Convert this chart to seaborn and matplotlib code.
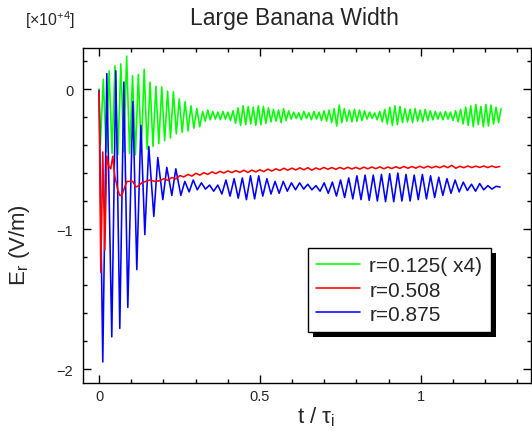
import numpy as np
import matplotlib
matplotlib.use("Agg")
import matplotlib.pyplot as plt
from matplotlib.patches import Rectangle
from matplotlib.ticker import MultipleLocator, FuncFormatter
import seaborn as sns

# ---------------------------------------------------------------
# data, E_r in units of 1e4 V/m, time in units of tau_i
# oscillating curves are stored as their successive troughs / peaks
# ---------------------------------------------------------------

# r = 0.125 (x4), green
green_early_troughs = [-0.40, -0.45, -0.46, -0.47, -0.45, -0.46, -0.47, -0.45, -0.43,
                       -0.41, -0.39, -0.37, -0.35, -0.32, -0.31, -0.30, -0.28, -0.27]
green_early_peaks = [0.07, 0.13, 0.165, 0.18, 0.235, 0.095, 0.105, 0.14, 0.05,
                     0.02, 0.015, -0.015, -0.02, -0.07, -0.09, -0.12, -0.14, -0.16]
green_late_troughs = [-0.23, -0.22, -0.215, -0.22, -0.215, -0.225, -0.245, -0.26, -0.255, -0.25,
                      -0.26, -0.255, -0.245, -0.235, -0.23, -0.24, -0.225, -0.215, -0.21, -0.22,
                      -0.21, -0.22, -0.215, -0.225, -0.23, -0.24, -0.265, -0.24, -0.23, -0.235,
                      -0.23, -0.225, -0.215, -0.21, -0.22, -0.235, -0.25, -0.26, -0.255, -0.24,
                      -0.235, -0.24, -0.23, -0.235, -0.225, -0.22, -0.215, -0.22, -0.215, -0.225,
                      -0.235, -0.25, -0.26, -0.27, -0.255, -0.27, -0.265, -0.25, -0.24]
green_late_peaks = [-0.15, -0.16, -0.165, -0.16, -0.165, -0.155, -0.135, -0.12, -0.125, -0.13,
                    -0.12, -0.125, -0.135, -0.145, -0.15, -0.14, -0.155, -0.165, -0.17, -0.16,
                    -0.17, -0.16, -0.165, -0.155, -0.15, -0.14, -0.115, -0.14, -0.15, -0.145,
                    -0.15, -0.155, -0.165, -0.17, -0.16, -0.145, -0.13, -0.12, -0.125, -0.14,
                    -0.145, -0.14, -0.15, -0.145, -0.155, -0.16, -0.165, -0.16, -0.165, -0.155,
                    -0.145, -0.13, -0.12, -0.11, -0.125, -0.11, -0.115, -0.13, -0.14]

# r = 0.508, red
red_early_t = [0.0, 0.0053, 0.0115, 0.0177, 0.024, 0.0302, 0.0364, 0.0426, 0.0488, 0.0582, 0.0644,
               0.0706, 0.0768, 0.0862, 0.0955, 0.1048, 0.1141, 0.1235, 0.1328, 0.1453, 0.1577, 0.1733]
red_early = [-0.02, -1.31, -0.45, -1.15, -0.48, -0.55, -0.57, -0.48, -0.62, -0.72, -0.76,
             -0.76, -0.72, -0.66, -0.66, -0.66, -0.70, -0.69, -0.67, -0.66, -0.65, -0.66]
red_late = [-0.655, -0.640, -0.652, -0.632, -0.642, -0.618, -0.628, -0.610, -0.622, -0.602,
            -0.615, -0.598, -0.610, -0.592, -0.604, -0.588, -0.600, -0.585, -0.597, -0.583,
            -0.595, -0.580, -0.596, -0.579, -0.592, -0.577, -0.590, -0.572, -0.586, -0.570,
            -0.582, -0.566, -0.580, -0.565, -0.578, -0.563, -0.577, -0.562, -0.580, -0.564,
            -0.575, -0.560, -0.573, -0.561, -0.574, -0.560, -0.572, -0.559, -0.571, -0.560,
            -0.572, -0.558, -0.570, -0.557, -0.569, -0.556, -0.570, -0.557, -0.568, -0.555,
            -0.567, -0.553, -0.566, -0.554, -0.565, -0.552, -0.564, -0.551, -0.563, -0.552,
            -0.562, -0.549, -0.562, -0.545, -0.566, -0.552, -0.562, -0.550, -0.561, -0.551,
            -0.560, -0.550, -0.561, -0.550, -0.560, -0.553]

# r = 0.875, blue
blue_early_t = [0.0, 0.0115, 0.024, 0.0395, 0.052, 0.0644, 0.077, 0.0893, 0.105, 0.1173, 0.13,
                0.1422, 0.1546, 0.1702, 0.1826, 0.1982, 0.2106, 0.2262, 0.2386, 0.2542, 0.2666]
blue_early = [-0.01, -1.95, 0.11, -1.77, 0.13, -1.71, 0.05, -1.56, -0.09, -1.29, -0.26,
              -1.04, -0.41, -0.91, -0.49, -0.79, -0.56, -0.76, -0.57, -0.76, -0.66]
blue_late_troughs = [-0.735, -0.72, -0.715, -0.73, -0.75, -0.765, -0.78, -0.79, -0.785, -0.765,
                     -0.75, -0.745, -0.73, -0.72, -0.715, -0.72, -0.73, -0.745, -0.765, -0.775,
                     -0.785, -0.79, -0.795, -0.80, -0.805, -0.805, -0.80, -0.80, -0.79, -0.785,
                     -0.775, -0.76, -0.745, -0.735, -0.725, -0.73, -0.72, -0.715]
blue_late_peaks = [-0.65, -0.67, -0.686, -0.686, -0.65, -0.64, -0.635, -0.62, -0.62, -0.64,
                   -0.66, -0.66, -0.67, -0.67, -0.68, -0.69, -0.67, -0.665, -0.65, -0.635,
                   -0.62, -0.615, -0.615, -0.61, -0.605, -0.60, -0.61, -0.615, -0.61, -0.62,
                   -0.63, -0.64, -0.65, -0.665, -0.68, -0.675, -0.69, -0.695]
blue_end = [-0.70]

labels = ["r=0.125( x4)", "r=0.508", "r=0.875"]
colors = ["#00ff00", "#ff0000", "#0000ff"]


def interleave(a, b):
    return np.column_stack([a, b]).ravel()


# =========================
# build the series
# =========================
green_v = np.concatenate([[0.0], interleave(green_early_troughs, green_early_peaks),
                          interleave(green_late_troughs, green_late_peaks)])
green_t = np.concatenate([[0.0], np.linspace(0.004, 0.322, 2 * len(green_early_peaks)),
                          np.linspace(0.33, 1.25, 2 * len(green_late_peaks))])

red_v = np.concatenate([red_early, red_late])
red_t = np.concatenate([red_early_t, np.linspace(0.189, 1.246, len(red_late))])

blue_v = np.concatenate([blue_early, interleave(blue_late_troughs, blue_late_peaks), blue_end])
blue_t = np.concatenate([blue_early_t, np.linspace(0.28, 1.247, 2 * len(blue_late_peaks) + 1)])

# =========================
# style
# =========================
sns.set_style("ticks")
plt.rcParams["font.family"] = ["Liberation Sans", "DejaVu Sans"]
plt.rcParams["mathtext.fontset"] = "custom"
plt.rcParams["mathtext.rm"] = "Liberation Sans"
plt.rcParams["mathtext.it"] = "Liberation Sans:italic"

fig = plt.figure(figsize=(5.32, 4.35), dpi=100)
ax = fig.add_axes([83 / 532, 1 - 384 / 435, 448 / 532, 335 / 435])

series = [(green_t, green_v, 2), (red_t, red_v, 4), (blue_t, blue_v, 3)]
for (t, v, z), lab, col in zip(series, labels, colors):
    sns.lineplot(x=t, y=v, ax=ax, color=col, lw=1.15, label=lab,
                 estimator=None, sort=False, zorder=z)

ax.set_xlim(-0.05, 1.343)
ax.set_ylim(-2.1, 0.293)
ax.xaxis.set_major_locator(MultipleLocator(0.5))
ax.xaxis.set_minor_locator(MultipleLocator(0.1))
ax.yaxis.set_major_locator(MultipleLocator(1))
ax.yaxis.set_minor_locator(MultipleLocator(0.2))
fmt = FuncFormatter(lambda v, p: f"{v:g}".replace("-", "\u2212"))
ax.xaxis.set_major_formatter(fmt)
ax.yaxis.set_major_formatter(fmt)
ax.tick_params(which="both", direction="in", top=True, right=True, width=1, color="black")
ax.tick_params(which="major", length=6, labelsize=10.5)
ax.tick_params(which="minor", length=3)
ax.tick_params(axis="y", pad=7)
ax.tick_params(axis="x", pad=4.5)
for s in ax.spines.values():
    s.set_color("black")
    s.set_linewidth(1.0)

ax.set_ylabel("E$_\\mathregular{r}$ (V/m)", fontsize=16)
ax.yaxis.set_label_coords(-0.114, 0.415)
ax.set_xlabel("t / \u03c4$_\\mathregular{i}$", fontsize=16, va="top")
ax.xaxis.set_label_coords(0.52, -0.063)

fig.text(294 / 532, 1 - 25 / 435, "Large Banana Width", ha="center", va="baseline", fontsize=16.5)
fig.text(25 / 532, 1 - 26 / 435, "[\u00d710$^{\\mathregular{+4}}$]", ha="left", va="baseline", fontsize=11.5)

leg = ax.legend(loc="upper left", bbox_to_anchor=(0.502, 0.403), fontsize=15,
                frameon=True, fancybox=False, framealpha=1, edgecolor="black",
                handlelength=2.1, handletextpad=0.45, labelspacing=0.25,
                borderpad=0.4, borderaxespad=0)
leg.get_frame().set_linewidth(1.0)
for h in leg.get_lines():
    h.set_linewidth(1.15)

# black drop shadow under the legend box
fig.canvas.draw()
bb = leg.get_window_extent()
shadow = Rectangle((bb.x0 + 5, bb.y0 - 5), bb.width, bb.height, transform=None,
                   facecolor="black", edgecolor="none", zorder=4.9)
ax.add_artist(shadow)

fig.savefig("out.png", dpi=100)
